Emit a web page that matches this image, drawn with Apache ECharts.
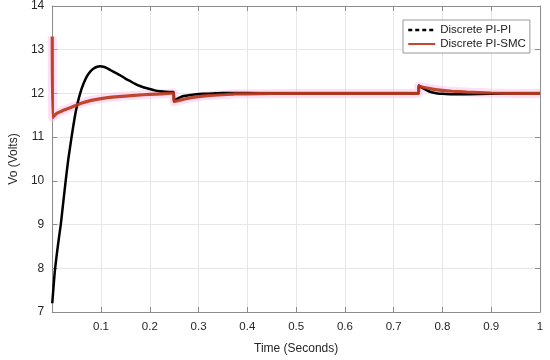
<!DOCTYPE html>
<html>
<head>
<meta charset="utf-8">
<script src="https://cdn.jsdelivr.net/npm/echarts@6/dist/echarts.min.js"></script>
<style>html,body{margin:0;padding:0;background:#fff}#c{width:550px;height:360px}</style>
</head>
<body>
<div id="c"></div>
<script>
// Discrete PI-PI (black)
const tPIPI = [0, 0.005, 0.01, 0.014, 0.0175, 0.0225, 0.0275, 0.033, 0.0396, 0.046, 0.052, 0.0577, 0.064, 0.071, 0.078, 0.085, 0.092, 0.098, 0.105, 0.112, 0.12, 0.13, 0.14, 0.15, 0.16, 0.17, 0.18, 0.19, 0.2, 0.21, 0.22, 0.23, 0.24, 0.249, 0.2495, 0.255, 0.262, 0.27, 0.28, 0.296, 0.31, 0.33, 0.35, 0.4, 0.5, 0.6, 0.7, 0.751, 0.7515, 0.758, 0.765, 0.772, 0.78, 0.79, 0.8, 0.82, 0.85, 0.9, 0.95, 1.0];
const vPIPI = [7.2, 7.9, 8.38, 8.72, 9.0, 9.5, 10.0, 10.5, 11.0, 11.45, 11.78, 12.02, 12.22, 12.39, 12.5, 12.57, 12.61, 12.62, 12.61, 12.58, 12.53, 12.47, 12.41, 12.34, 12.28, 12.22, 12.17, 12.13, 12.1, 12.07, 12.05, 12.04, 12.03, 12.03, 11.83, 11.87, 11.91, 11.94, 11.96, 11.98, 11.99, 12.0, 12.01, 12.01, 12.0, 12.0, 12.0, 12.0, 12.18, 12.13, 12.09, 12.05, 12.02, 12.0, 11.99, 11.98, 11.98, 11.99, 12.0, 12.0];
// Discrete PI-SMC (red)
const tPISMC = [0, 0.0008, 0.005, 0.01, 0.02, 0.034, 0.045, 0.061, 0.08, 0.1, 0.128, 0.15, 0.175, 0.2, 0.225, 0.249, 0.2495, 0.26, 0.28, 0.296, 0.32, 0.35, 0.376, 0.4, 0.45, 0.5, 0.6, 0.7, 0.751, 0.7515, 0.76, 0.78, 0.8, 0.82, 0.85, 0.9, 0.95, 1.0];
const vPISMC = [13.3, 11.45, 11.5, 11.55, 11.6, 11.66, 11.71, 11.78, 11.84, 11.88, 11.92, 11.94, 11.96, 11.98, 11.99, 12.01, 11.81, 11.84, 11.89, 11.92, 11.95, 11.97, 11.99, 11.99, 12.0, 12.0, 12.0, 12.0, 12.0, 12.17, 12.14, 12.1, 12.07, 12.05, 12.03, 12.01, 12.0, 12.0];
const xTicks = [0, 0.1, 0.2, 0.3, 0.4, 0.5, 0.6, 0.7, 0.8, 0.9, 1];
const yTicks = [7, 8, 9, 10, 11, 12, 13, 14];
const seriesNames = ['Discrete PI-PI', 'Discrete PI-SMC'];

const zip = (t, v) => t.map((x, i) => [x, v[i]]);
const font = 'Liberation Sans, Arial, sans-serif';
const axisCol = '#8c8c8c';
const gridCol = '#e6e6e6';

const chart = echarts.init(document.getElementById('c'), null, {renderer: 'canvas'});
chart.setOption({
  animation: false,
  backgroundColor: '#fff',
  grid: {left: 43, right: 10, top: 6, bottom: 45},
  legend: {
    orient: 'vertical', left: 403, top: 20,
    backgroundColor: '#fff', borderColor: '#999', borderWidth: 1, borderRadius: 0,
    padding: [4, 4, 3, 4], itemGap: 2, itemWidth: 27, itemHeight: 12,
    textStyle: {fontFamily: font, fontSize: 11.5, color: '#222'},
    itemStyle: {opacity: 0},
    data: [
      {name: seriesNames[0], itemStyle: {opacity: 0}, lineStyle: {type: [4, 3], width: 2.5, color: '#000'}},
      {name: seriesNames[1], itemStyle: {opacity: 0}, lineStyle: {width: 2, color: '#c7351e'}}
    ]
  },
  xAxis: [{
    type: 'value', min: xTicks[0], max: xTicks[xTicks.length - 1], interval: 0.1,
    name: 'Time (Seconds)', nameLocation: 'middle', nameGap: 31,
    nameTextStyle: {fontFamily: font, fontSize: 12, color: '#262626'},
    axisLine: {show: true, lineStyle: {color: axisCol}},
    axisTick: {show: true, inside: true, length: 5, lineStyle: {color: axisCol}},
    axisLabel: {fontFamily: font, fontSize: 11.5, color: '#262626', margin: 9,
      formatter: v => (Math.abs(v) < 1e-9 ? '' : String(+v.toFixed(1)))},
    splitLine: {show: true, lineStyle: {color: gridCol}}
  }, {
    type: 'value', position: 'top', min: xTicks[0], max: xTicks[xTicks.length - 1], interval: 0.1,
    axisLine: {show: true, onZero: false, lineStyle: {color: axisCol}},
    axisTick: {show: true, inside: true, length: 5, lineStyle: {color: axisCol}},
    axisLabel: {show: false}, splitLine: {show: false}
  }],
  yAxis: [{
    type: 'value', min: yTicks[0], max: yTicks[yTicks.length - 1], interval: 1,
    name: 'Vo (Volts)', nameLocation: 'middle', nameGap: 26,
    nameTextStyle: {fontFamily: font, fontSize: 12, color: '#262626'},
    axisLine: {show: true, lineStyle: {color: axisCol}},
    axisTick: {show: true, inside: true, length: 5, lineStyle: {color: axisCol}},
    axisLabel: {fontFamily: font, fontSize: 12, color: '#262626', margin: 8},
    splitLine: {show: true, lineStyle: {color: gridCol}}
  }, {
    type: 'value', position: 'right', min: yTicks[0], max: yTicks[yTicks.length - 1], interval: 1,
    axisLine: {show: true, onZero: false, lineStyle: {color: axisCol}},
    axisTick: {show: true, inside: true, length: 5, lineStyle: {color: axisCol}},
    axisLabel: {show: false}, splitLine: {show: false}
  }],
  series: [
    {
      name: 'halo', type: 'line', data: zip(tPISMC, vPISMC), symbol: 'none', silent: true,
      smooth: 0.15, lineStyle: {color: 'rgba(255,185,235,0.45)', width: 9}, z: 1
    },
    {
      name: seriesNames[0], type: 'line', data: zip(tPIPI, vPIPI), symbol: 'none',
      smooth: 0.15, lineStyle: {color: '#000', width: 2.5}, itemStyle: {color: '#000'}, z: 3
    },
    {
      name: seriesNames[1], type: 'line', data: zip(tPISMC, vPISMC), symbol: 'none',
      smooth: 0.15, lineStyle: {color: '#b83a1c', width: 3.2, opacity: 0.92}, itemStyle: {color: '#c7351e'}, z: 4
    }
  ]
});
</script>
</body>
</html>
